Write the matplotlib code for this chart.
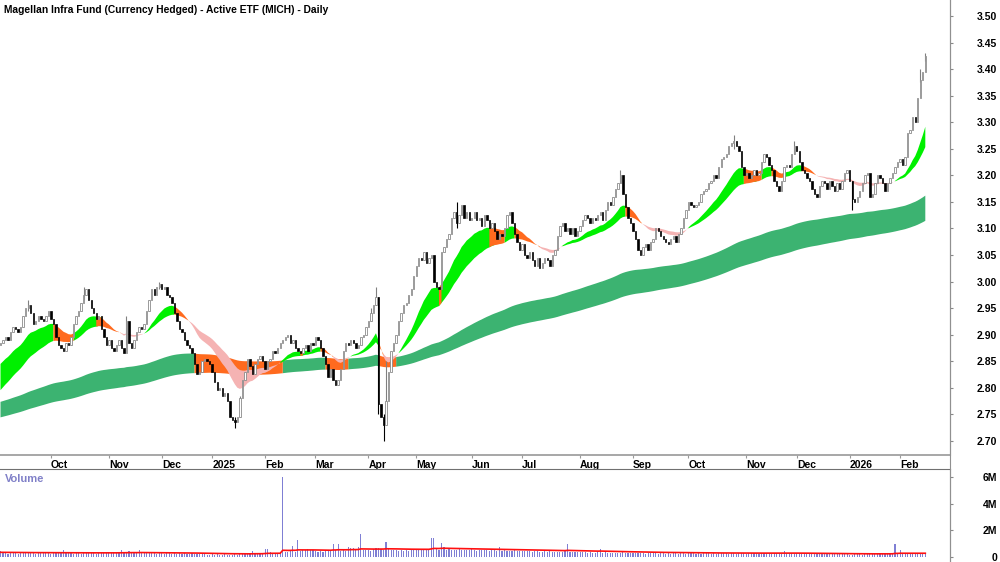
import numpy as np
import pandas as pd
import matplotlib
matplotlib.use('Agg')
import matplotlib.pyplot as plt
from matplotlib.lines import Line2D

TITLE = "Magellan Infra Fund (Currency Hedged) - Active ETF (MICH) - Daily"

# ASX trading days (weekends + exchange holidays skipped)
first_day = '2024-09-03'
holidays = ['2024-12-25', '2024-12-26', '2025-01-01', '2025-01-27', '2025-04-18',
            '2025-04-21', '2025-04-25', '2025-06-09', '2025-12-25', '2025-12-26',
            '2026-01-01', '2026-01-26']

open0 = 2.88
close = [
    2.885, 2.89, 2.895, 2.89, 2.905, 2.915, 2.91, 2.905, 2.915, 2.935,
    2.95, 2.955, 2.94, 2.92, 2.925, 2.935, 2.93, 2.925, 2.935, 2.945,
    2.93, 2.92, 2.895, 2.88, 2.875, 2.87, 2.885, 2.88, 2.895, 2.92,
    2.935, 2.945, 2.96, 2.975, 2.985, 2.965, 2.95, 2.94, 2.93, 2.935,
    2.91, 2.895, 2.88, 2.89, 2.875, 2.87, 2.88, 2.89, 2.875, 2.865,
    2.925, 2.885, 2.875, 2.89, 2.905, 2.915, 2.91, 2.92, 2.945, 2.965,
    2.985, 2.975, 2.99, 2.995, 2.985, 2.99, 2.975, 2.97, 2.96, 2.94,
    2.925, 2.91, 2.905, 2.89, 2.88, 2.875, 2.865, 2.845, 2.825, 2.83,
    2.85, 2.855, 2.85, 2.845, 2.83, 2.81, 2.795, 2.80, 2.785, 2.79,
    2.775, 2.745, 2.74, 2.735, 2.745, 2.78, 2.815, 2.83, 2.855, 2.84,
    2.825, 2.845, 2.855, 2.86, 2.85, 2.835, 2.85, 2.855, 2.87, 2.865,
    2.875, 2.885, 2.89, 2.895, 2.90, 2.885, 2.89, 2.875, 2.87, 2.865,
    2.875, 2.88, 2.87, 2.885, 2.88, 2.895, 2.89, 2.875, 2.86, 2.845,
    2.82, 2.835, 2.815, 2.805, 2.815, 2.835, 2.87, 2.885, 2.88, 2.89,
    2.885, 2.875, 2.88, 2.895, 2.90, 2.915, 2.925, 2.94, 2.955, 2.97,
    2.77, 2.745, 2.73, 2.775, 2.83, 2.87, 2.885, 2.90, 2.925, 2.94,
    2.955, 2.96, 2.975, 2.985, 3.01, 3.03, 3.045, 3.04, 3.055, 3.035,
    3.045, 3.05, 3.00, 2.99, 2.985, 3.055, 3.065, 3.08, 3.09, 3.12,
    3.13, 3.11, 3.125, 3.145, 3.12, 3.13, 3.115, 3.12, 3.13, 3.115,
    3.12, 3.105, 3.125, 3.115, 3.10, 3.11, 3.095, 3.08, 3.09, 3.085,
    3.10, 3.125, 3.13, 3.11, 3.09, 3.075, 3.06, 3.07, 3.05, 3.045,
    3.055, 3.04, 3.03, 3.045, 3.025, 3.035, 3.045, 3.04, 3.03, 3.05,
    3.06, 3.085, 3.105, 3.11, 3.095, 3.10, 3.09, 3.10, 3.085, 3.095,
    3.105, 3.115, 3.125, 3.12, 3.11, 3.12, 3.115, 3.125, 3.13, 3.115,
    3.135, 3.15, 3.145, 3.16, 3.175, 3.185, 3.20, 3.165, 3.14, 3.12,
    3.11, 3.095, 3.08, 3.06, 3.05, 3.065, 3.07, 3.06, 3.075, 3.08,
    3.10, 3.095, 3.085, 3.08, 3.075, 3.07, 3.08, 3.085, 3.075, 3.09,
    3.10, 3.12, 3.135, 3.15, 3.145, 3.14, 3.145, 3.15, 3.165, 3.17,
    3.175, 3.185, 3.19, 3.20, 3.195, 3.215, 3.23, 3.235, 3.24, 3.255,
    3.26, 3.265, 3.255, 3.245, 3.215, 3.20, 3.205, 3.195, 3.20, 3.21,
    3.20, 3.205, 3.225, 3.24, 3.235, 3.22, 3.21, 3.19, 3.18, 3.17,
    3.19, 3.215, 3.22, 3.215, 3.24, 3.255, 3.245, 3.225, 3.21, 3.205,
    3.195, 3.19, 3.175, 3.165, 3.16, 3.18, 3.19, 3.185, 3.175, 3.19,
    3.18, 3.17, 3.185, 3.175, 3.19, 3.205, 3.21, 3.19, 3.155, 3.15,
    3.16, 3.17, 3.185, 3.20, 3.205, 3.16, 3.165, 3.185, 3.20, 3.195,
    3.185, 3.17, 3.185, 3.195, 3.205, 3.215, 3.225, 3.23, 3.22, 3.235,
    3.28, 3.285, 3.31, 3.30, 3.345, 3.38, 3.395, 3.425,
]

# only the bars whose shadows stick out clearly: index -> (high, low)
wicks = {
    11: (2.965, 2.945), 33: (2.99, 2.965), 50: (2.935, 2.88), 63: (3.0, 2.985),
    93: (2.745, 2.725), 95: (2.785, 2.745), 147: (2.95, 2.925), 149: (2.99, 2.955),
    150: (2.97, 2.75), 152: (2.75, 2.70), 153: (2.85, 2.76), 181: (3.15, 3.10),
    246: (3.21, 3.185), 291: (3.275, 3.25), 315: (3.265, 3.24), 338: (3.19, 3.135),
    365: (3.40, 3.375), 367: (3.43, 3.415),
}

# volume in thousands of units
volume_k = [
    420, 300, 380, 250, 310, 280, 350, 240, 300, 330, 270, 360, 290, 310, 250, 380, 300, 270, 320, 290,
    260, 350, 300, 280, 340, 520, 310, 270, 300, 250, 290, 330, 260, 310, 280, 300, 270, 320, 250, 290,
    310, 280, 330, 360, 300, 350, 290, 400, 560, 330, 360, 450, 300, 320, 280, 500, 340, 300, 270, 310,
    290, 330, 260, 300, 280, 250, 310, 270, 240, 290, 260, 300, 230, 280, 250, 220, 270, 240, 260, 230,
    210, 250, 180, 160, 220, 150, 190, 170, 140, 200, 160, 180, 150, 210, 170, 190, 230, 200, 250, 220,
    420, 260, 230, 280, 300, 620, 600, 350, 280, 320, 300, 330, 6000, 350, 400, 520, 800, 380, 1300, 450,
    560, 530, 580, 540, 500, 420, 380, 460, 400, 430, 500, 470, 1000, 520, 950, 480, 620, 450, 720, 700,
    680, 500, 760, 1700, 520, 560, 540, 480, 620, 650, 700, 580, 520, 1100, 600, 560, 560, 540, 480, 500,
    470, 520, 490, 560, 500, 580, 560, 540, 600, 560, 520, 1450, 1450, 600, 560, 1050, 760, 540, 600, 520,
    560, 540, 580, 520, 560, 500, 540, 580, 520, 480, 560, 500, 540, 520, 480, 500, 520, 460, 760, 480,
    500, 460, 480, 440, 500, 460, 420, 480, 440, 460, 420, 400, 460, 430, 410, 380, 440, 400, 420, 390,
    410, 380, 400, 360, 420, 950, 380, 360, 400, 340, 380, 360, 340, 320, 360, 330, 300, 340, 600, 320,
    340, 300, 320, 290, 330, 310, 280, 350, 300, 280, 320, 290, 270, 310, 280, 300, 260, 290, 270, 300,
    280, 260, 300, 270, 250, 290, 260, 280, 300, 250, 270, 290, 260, 280, 300, 270, 250, 290, 260, 280,
    270, 300, 250, 280, 260, 290, 270, 310, 280, 260, 300, 270, 250, 280, 320, 290, 260, 280, 300, 270,
    280, 260, 300, 270, 330, 290, 260, 280, 300, 270, 250, 450, 300, 270, 290, 260, 280, 300, 250, 270,
    240, 260, 220, 250, 230, 270, 210, 240, 220, 200, 230, 210, 190, 220, 200, 240, 210, 180, 160, 200,
    190, 210, 180, 220, 200, 230, 210, 240, 220, 250, 230, 260, 240, 280, 300, 950, 320, 550, 260, 280,
    300, 280, 260, 310, 290, 270, 300, 280,
]

# ribbon settings: (span, starting level)
short_fast = (18, 2.84)
short_slow = (34, 2.79)
long_fast = (160, 2.772)
long_slow = (240, 2.743)
vol_avg = (50, 350)

GREEN = '#00f000'
ORANGE = '#ff6a1e'
PINK = '#f5b3b3'
DKGREEN = '#3cb371'


def ema(values, span, seed):
    alpha = 2.0 / (span + 1)
    level = seed
    out = []
    for v in values:
        level += alpha * (v - level)
        out.append(level)
    return np.array(out)


def joined(mask):
    # stretch each run by one bar so neighbouring colours meet
    ext = mask.copy()
    ext[1:] |= mask[:-1]
    return ext


def main():
    c = np.array(close)
    n = len(c)
    x = np.arange(n)
    dates = pd.bdate_range(first_day, periods=n, freq='C', holidays=holidays)
    o = np.concatenate([[open0], c[:-1]])

    sf = ema(c, *short_fast)
    ss = ema(c, *short_slow)
    lf = ema(c, *long_fast)
    ls = ema(c, *long_slow)

    fig = plt.figure(figsize=(10, 5.62), dpi=100)
    ax = fig.add_axes([0, 1 - 455 / 562, 0.95, 455 / 562])
    axv = fig.add_axes([0, 0, 0.95, 93 / 562])

    # long ribbon: orange while price or the short ribbon sits under it
    below = (c < lf) | (sf < lf)
    ax.fill_between(x, lf, ls, where=joined(~below), color=DKGREEN, lw=0, zorder=1)
    ax.fill_between(x, lf, ls, where=joined(below), color=ORANGE, lw=0, zorder=1)

    # short ribbon
    crossed = sf < ss
    weak = (~crossed) & (c < sf)
    strong = (~crossed) & (~weak)
    ax.fill_between(x, sf, ss, where=joined(strong), color=GREEN, lw=0, zorder=2)
    ax.fill_between(x, sf, ss, where=joined(weak), color=ORANGE, lw=0, zorder=2)
    ax.fill_between(x, sf, ss, where=joined(crossed), color=PINK, lw=0, zorder=2)

    # candles
    up = c >= o
    for i, (hi, lo) in wicks.items():
        ax.vlines(i, lo, hi, color='#808080' if up[i] else 'black', lw=0.8, zorder=3)
    lo_body = np.minimum(o, c)
    h_body = np.abs(c - o)
    ax.bar(x[up], h_body[up], bottom=lo_body[up], width=0.55,
           facecolor='white', edgecolor='#8a8a8a', linewidth=0.6, zorder=4)
    ax.bar(x[~up], h_body[~up], bottom=lo_body[~up], width=0.55,
           facecolor='black', edgecolor='black', linewidth=0.5, zorder=4)

    ax.set_xlim(-0.2, 376.8)
    ax.set_ylim(2.6733, 3.5301)

    # month ticks
    month_pos = [i for i in range(1, n) if dates[i].month != dates[i - 1].month]
    month_lab = [str(dates[i].year) if dates[i].month == 1 else dates[i].strftime('%b')
                 for i in month_pos]
    ax.set_xticks(month_pos)
    ax.set_xticklabels(month_lab)
    ax.tick_params(axis='x', direction='out', length=2.5, width=0.8, pad=1,
                   color='#999999', labelsize=7.5)
    for lbl in ax.get_xticklabels():
        lbl.set_ha('left')
        lbl.set_fontweight('bold')

    ax.yaxis.tick_right()
    yt = np.arange(2.70, 3.5001, 0.05)
    ax.set_yticks(yt)
    ax.set_yticklabels(['%.2f' % v for v in yt])
    ax.tick_params(axis='y', direction='out', length=2, width=0.8, pad=32,
                   color='#888888', labelsize=7.5)
    for lbl in ax.get_yticklabels():
        lbl.set_ha('right')
        lbl.set_fontweight('bold')

    for side in ('top', 'left'):
        ax.spines[side].set_visible(False)
    ax.spines['bottom'].set_color('#a0a0a0')
    ax.spines['bottom'].set_linewidth(1.3)
    ax.spines['right'].set_color('#909090')

    # volume panel
    v = np.array(volume_k, dtype=float)
    axv.bar(x, v, width=0.45, color='#7f7fd4', lw=0, zorder=2)
    axv.plot(x, ema(v, *vol_avg), color='#ff1010', lw=1.2, zorder=3)
    axv.set_xlim(-0.2, 376.8)
    axv.set_ylim(-377, 6640)
    axv.set_xticks([])
    axv.yaxis.tick_right()
    axv.set_yticks([0, 2000, 4000, 6000])
    axv.set_yticklabels(['0', '2M', '4M', '6M'])
    axv.tick_params(axis='y', direction='out', length=2, width=0.8, pad=32,
                    color='#888888', labelsize=7.5)
    for lbl in axv.get_yticklabels():
        lbl.set_ha('right')
        lbl.set_fontweight('bold')
    for side in ('bottom', 'left'):
        axv.spines[side].set_visible(False)
    axv.spines['top'].set_color('#707070')
    axv.spines['right'].set_color('#909090')
    axv.text(0.005, 0.89, 'Volume', transform=axv.transAxes, color='#8080c8',
             fontsize=8, fontweight='bold', va='center', ha='left')

    # right divider runs through the date strip too
    fig.add_artist(Line2D([0.95, 0.95], [0, 1], color='#909090', lw=0.8))

    fig.text(0.004, 1 - 13 / 562, TITLE, fontsize=7.4, fontweight='bold',
             va='baseline', ha='left')

    fig.savefig('out.png', dpi=100)


if __name__ == '__main__':
    plt.rcParams['font.family'] = ['Liberation Sans', 'DejaVu Sans']
    main()
